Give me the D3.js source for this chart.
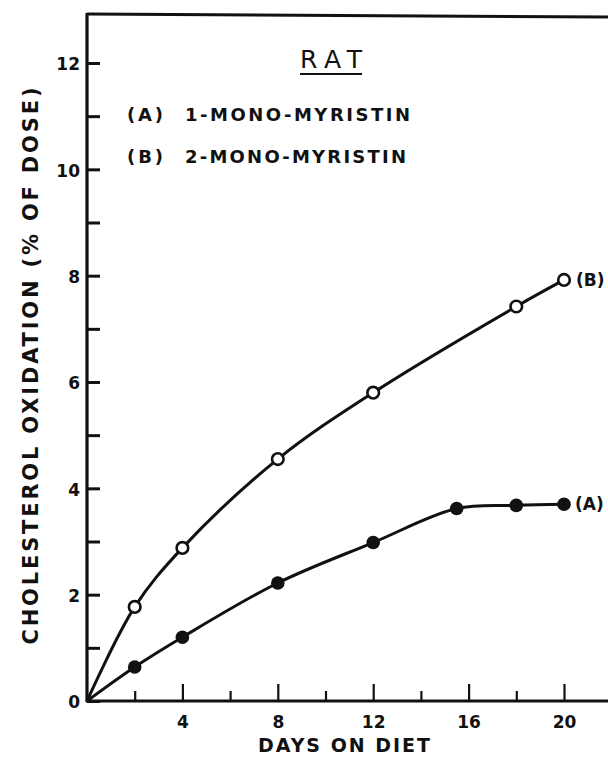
<!DOCTYPE html>
<html>
<head>
<meta charset="utf-8">
<script src="https://cdn.jsdelivr.net/npm/d3@7"></script>
<style>
  html, body { margin: 0; padding: 0; background: #fff; }
  svg { display: block; }
  text { font-family: "DejaVu Sans", sans-serif; font-weight: bold; fill: #111; }
</style>
</head>
<body>
<svg id="chart" width="608" height="757"></svg>
<script>
// ---- data ----
const daysB = [0, 2, 4, 8, 12, 18, 20];
const valuesB = [0, 1.77, 2.88, 4.55, 5.80, 7.42, 7.92];
const daysA = [0, 2, 4, 8, 12, 15.5, 18, 20];
const valuesA = [0, 0.64, 1.20, 2.22, 2.98, 3.62, 3.68, 3.70];
const xMajorTicks = [4, 8, 12, 16, 20];
const xMinorTicks = [2, 6, 10, 14, 18];
const yTicks = [0, 1, 2, 3, 4, 5, 6, 7, 8, 9, 10, 11, 12];
const yLabelTicks = [0, 2, 4, 6, 8, 10, 12];
const chartTitle = "RAT";
const legendKeys = ["(A)", "(B)"];
const legendNames = ["1-MONO-MYRISTIN", "2-MONO-MYRISTIN"];
const xTitle = "DAYS ON DIET";
const yTitle = "CHOLESTEROL OXIDATION (% OF DOSE)";

// ---- layout ----
const svg = d3.select("#chart");
const mLeft = 87, mBottom = 701, mTop = 14;
const x = d3.scaleLinear().domain([0, 20]).range([mLeft, mLeft + 20 * 23.85]);
const y = d3.scaleLinear().domain([0, 12]).range([mBottom, 63]);
const ink = "#111";
const fontFam = "'DejaVu Sans', sans-serif";

// frame top and axis lines
svg.append("line").attr("x1", mLeft).attr("x2", 612).attr("y1", mTop).attr("y2", mTop + 3)
  .attr("stroke", ink).attr("stroke-width", 3);
svg.append("line").attr("x1", mLeft).attr("x2", mLeft).attr("y1", mTop - 1).attr("y2", mBottom + 1)
  .attr("stroke", ink).attr("stroke-width", 3.2);
svg.append("line").attr("x1", mLeft - 1).attr("x2", 612).attr("y1", mBottom).attr("y2", mBottom)
  .attr("stroke", ink).attr("stroke-width", 3);

// y axis ticks
const yAxis = d3.axisLeft(y).tickValues(yTicks).tickSize(-13).tickPadding(7)
  .tickFormat(d => yLabelTicks.includes(d) ? String(d) : "");
const gy = svg.append("g").attr("transform", `translate(${mLeft},0)`).call(yAxis);
gy.select(".domain").remove();
gy.selectAll(".tick line").attr("stroke", ink).attr("stroke-width", 3);
gy.selectAll(".tick text").attr("font-size", 17).attr("dy", "0.4em")
  .style("font-family", fontFam).style("font-weight", "bold").attr("fill", ink);

// x axis ticks
const xMinor = d3.axisBottom(x).tickValues(xMinorTicks).tickSize(-10).tickFormat("");
const gxm = svg.append("g").attr("transform", `translate(0,${mBottom})`).call(xMinor);
gxm.select(".domain").remove();
gxm.selectAll(".tick line").attr("stroke", ink).attr("stroke-width", 2.2);

const xMajor = d3.axisBottom(x).tickValues(xMajorTicks).tickSize(-17).tickPadding(15);
const gx = svg.append("g").attr("transform", `translate(0,${mBottom})`).call(xMajor);
gx.select(".domain").remove();
gx.selectAll(".tick line").attr("stroke", ink).attr("stroke-width", 2.2);
gx.selectAll(".tick text").attr("font-size", 17)
  .style("font-family", fontFam).style("font-weight", "bold").attr("fill", ink);

// axis titles
svg.append("text").attr("x", 344).attr("y", 752).attr("text-anchor", "middle")
  .attr("font-size", 19).attr("textLength", 172).attr("lengthAdjust", "spacing").text(xTitle);
svg.append("text").attr("transform", "translate(38,366) rotate(-90)").attr("text-anchor", "middle")
  .attr("font-size", 21).attr("textLength", 557).attr("lengthAdjust", "spacing").text(yTitle);

// title RAT
svg.append("text").attr("x", 331).attr("y", 68).attr("text-anchor", "middle")
  .attr("font-size", 25).style("font-weight", "normal")
  .attr("textLength", 62).attr("lengthAdjust", "spacing").text(chartTitle);
svg.append("line").attr("x1", 300).attr("x2", 362).attr("y1", 74).attr("y2", 74)
  .attr("stroke", ink).attr("stroke-width", 2);

// legend text
const legY = [121, 163];
const legLen = [225, 221];
legendKeys.forEach((k, i) => {
  svg.append("text").attr("x", 127).attr("y", legY[i]).attr("font-size", 18)
    .attr("textLength", 36).attr("lengthAdjust", "spacing").text(k);
  svg.append("text").attr("x", 185).attr("y", legY[i]).attr("font-size", 18)
    .attr("textLength", legLen[i]).attr("lengthAdjust", "spacing").text(legendNames[i]);
});

// lines
const line = d3.line().x(d => x(d[0])).y(d => y(d[1])).curve(d3.curveCatmullRom.alpha(0.5));
const ptsA = daysA.map((d, i) => [d, valuesA[i]]);
const ptsB = daysB.map((d, i) => [d, valuesB[i]]);
svg.append("path").datum(ptsB).attr("d", line).attr("fill", "none").attr("stroke", ink).attr("stroke-width", 3);
svg.append("path").datum(ptsA).attr("d", line).attr("fill", "none").attr("stroke", ink).attr("stroke-width", 3);

// markers (skip origin)
svg.selectAll(".ma").data(ptsA.slice(1)).enter().append("circle")
  .attr("cx", d => x(d[0])).attr("cy", d => y(d[1])).attr("r", 6.8).attr("fill", ink);
svg.selectAll(".mb").data(ptsB.slice(1)).enter().append("circle")
  .attr("cx", d => x(d[0])).attr("cy", d => y(d[1])).attr("r", 5.8)
  .attr("fill", "#fff").attr("stroke", ink).attr("stroke-width", 2.6);

// end labels
const lastA = ptsA[ptsA.length - 1], lastB = ptsB[ptsB.length - 1];
svg.append("text").attr("x", x(lastA[0]) + 11).attr("y", y(lastA[1])).attr("dy", "0.36em")
  .attr("font-size", 17).text(legendKeys[0]);
svg.append("text").attr("x", x(lastB[0]) + 12).attr("y", y(lastB[1])).attr("dy", "0.36em")
  .attr("font-size", 17).text(legendKeys[1]);
</script>
</body>
</html>
